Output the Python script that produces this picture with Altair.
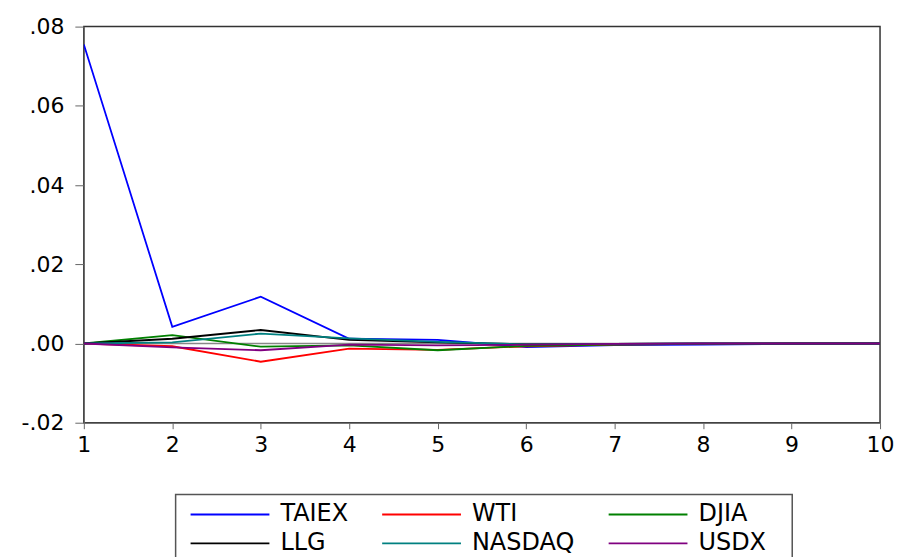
import altair as alt
import pandas as pd

steps = list(range(1, 11))
series = ["TAIEX", "WTI", "DJIA", "LLG", "NASDAQ", "USDX"]
colors = ["#0000FF", "#FF0000", "#008000", "#000000", "#008080", "#800080"]

taiex = [0.0755, 0.0042, 0.0118, 0.0012, 0.0009, -0.0009, -0.0004, -0.0003, -0.0001, 0.0]
wti = [0.0, -0.0007, -0.0046, -0.0013, -0.0016, -0.0007, -0.0003, -0.0001, 0.0, 0.0]
djia = [0.0, 0.0021, -0.0008, -0.0005, -0.0017, -0.0006, -0.0003, -0.0001, 0.0, 0.0]
llg = [0.0, 0.0012, 0.0034, 0.0009, 0.0003, -0.0002, -0.0001, 0.0, 0.0, 0.0]
nasdaq = [0.0, 0.0003, 0.0025, 0.0013, 0.0004, -0.0002, -0.0001, 0.0, 0.0, 0.0]
usdx = [0.0, -0.0010, -0.0017, -0.0003, -0.0005, -0.0003, -0.0001, 0.0, 0.0, 0.0]

y_ticks = [-0.02, 0.0, 0.02, 0.04, 0.06, 0.08]

values = [taiex, wti, djia, llg, nasdaq, usdx]
rows = []
for si, (name, vals) in enumerate(zip(series, values)):
    for s, v in zip(steps, vals):
        rows.append({"step": s, "value": v, "series": name, "si": si})
df = pd.DataFrame(rows)

leg_df = pd.DataFrame({
    "series": series,
    "col": [i % 3 for i in range(len(series))],
    "row": [i // 3 for i in range(len(series))],
})

FONT = "DejaVu Sans"
PLOT_W = 798
color_scale = alt.Scale(domain=series, range=colors)

lines = alt.Chart(df).mark_line(strokeWidth=1.8, clip=True).encode(
    x=alt.X("step:Q",
            scale=alt.Scale(domain=[1, 10], nice=False),
            axis=alt.Axis(values=steps, format="d", title=None, grid=False,
                          tickSize=6, labelPadding=6, labelFontSize=22,
                          labelFont=FONT, labelColor="black",
                          domainColor="#666", tickColor="#666",
                          minExtent=32, maxExtent=32, labelFlush=False)),
    y=alt.Y("value:Q",
            scale=alt.Scale(domain=[-0.02, 0.08], nice=False),
            axis=alt.Axis(values=y_ticks, title=None, grid=False,
                          labelExpr="replace(replace(format(datum.value, '.2f'), '0.', '.'), '\u2212', '-')",
                          tickSize=9, labelPadding=11, labelFontSize=22,
                          labelFont=FONT, labelColor="black",
                          domainColor="#666", tickColor="#666",
                          minExtent=75, maxExtent=75)),
    color=alt.Color("series:N", scale=color_scale, legend=None),
    detail="si:Q",
)

zero = alt.Chart(pd.DataFrame({"z": [0.0]})).mark_rule(color="#888", strokeWidth=1.5).encode(
    y="z:Q"
)

main = alt.layer(zero, lines).properties(
    width=PLOT_W, height=397,
    view=alt.ViewBackground(stroke="#333", strokeWidth=1.5),
)

box = alt.Chart(pd.DataFrame({"a": [0]})).mark_rect(
    fill="white", stroke="#555", strokeWidth=1.5
).encode(x=alt.value(92), x2=alt.value(710), y=alt.value(0), y2=alt.value(90))

leg_x = alt.X("col:Q", scale=alt.Scale(domain=[0, 1, 2], range=[107, 299, 526]), axis=None)
leg_y = alt.Y("row:Q", scale=alt.Scale(domain=[0, 1], range=[20, 49]), axis=None)

leg_lines = alt.Chart(leg_df).mark_rule(strokeWidth=1.8, x2Offset=79).encode(
    x=leg_x, x2=alt.X2("col:Q"), y=leg_y,
    color=alt.Color("series:N", scale=color_scale, legend=None),
)
leg_text = alt.Chart(leg_df).mark_text(
    align="left", baseline="middle", dx=90, fontSize=24, font=FONT, color="black"
).encode(x=leg_x, y=leg_y, text="series:N")

legend = alt.layer(box, leg_lines, leg_text).properties(
    width=PLOT_W, height=80,
    view=alt.ViewBackground(stroke=None),
)

chart = alt.vconcat(main, legend, spacing=37).properties(
    padding={"left": 0, "top": 6, "right": 0, "bottom": 0}
).resolve_scale(x="independent", y="independent")

chart.save("out.html", embed_options={"renderer": "svg", "actions": False})
